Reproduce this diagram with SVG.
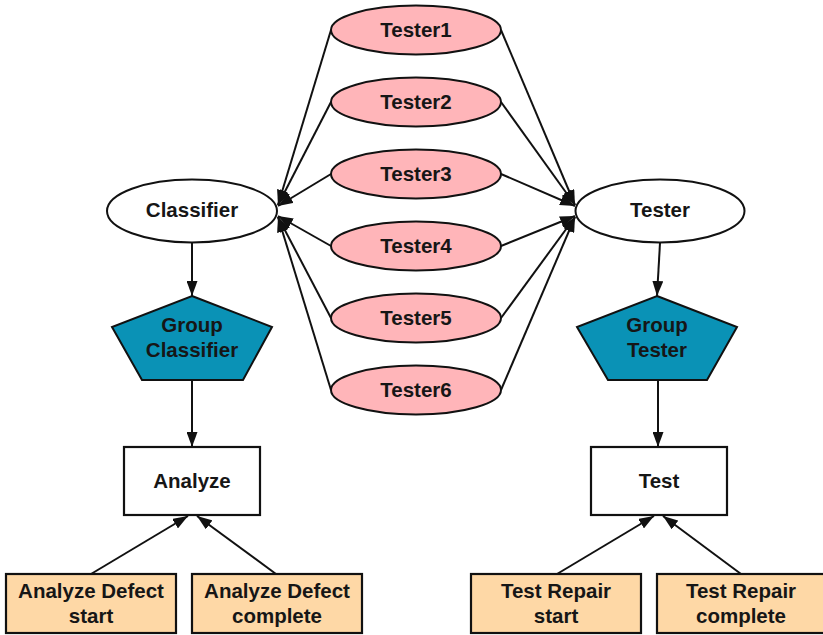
<svg xmlns="http://www.w3.org/2000/svg" width="823" height="635" viewBox="0 0 823 635">
  <defs>
    <marker id="arrow" markerUnits="userSpaceOnUse" markerWidth="15" markerHeight="11" refX="15" refY="5.5" orient="auto">
      <path d="M0,0 L15,5.5 L0,11 z" fill="#111"/>
    </marker>
    <style>
      .edge { stroke: #111; stroke-width: 2; fill: none; marker-end: url(#arrow); }
      .tester { fill: #FFB5B9; stroke: #111; stroke-width: 2; }
      .role { fill: #FFFFFF; stroke: #111; stroke-width: 2; }
      .group { fill: #0A92B6; stroke: #111; stroke-width: 2; }
      .task { fill: #FFFFFF; stroke: #111; stroke-width: 2.2; }
      .event { fill: #FED8A6; stroke: #111; stroke-width: 2.2; }
      text { font-family: "Liberation Sans", Arial, sans-serif; font-weight: bold; font-size: 20.5px; fill: #161616; text-anchor: middle; }
    </style>
  </defs>

  <rect width="823" height="635" fill="#FFFFFF"/>

  <!-- connectors -->
  <g id="edges">
    <!-- testers to Classifier -->
    <line class="edge" x1="331" y1="30" x2="278" y2="205"/>
    <line class="edge" x1="331" y1="102" x2="278" y2="205"/>
    <line class="edge" x1="331" y1="174" x2="278" y2="206"/>
    <line class="edge" x1="331" y1="246" x2="278" y2="216"/>
    <line class="edge" x1="331" y1="318" x2="278" y2="217"/>
    <line class="edge" x1="331" y1="390" x2="278" y2="217"/>
    <!-- testers to Tester -->
    <line class="edge" x1="501" y1="30" x2="575" y2="205"/>
    <line class="edge" x1="501" y1="102" x2="575" y2="205"/>
    <line class="edge" x1="501" y1="174" x2="575" y2="206"/>
    <line class="edge" x1="501" y1="246" x2="575" y2="216"/>
    <line class="edge" x1="501" y1="318" x2="575" y2="217"/>
    <line class="edge" x1="501" y1="390" x2="575" y2="217"/>
    <!-- vertical chains -->
    <line class="edge" x1="192" y1="243" x2="192" y2="296"/>
    <line class="edge" x1="192" y1="380" x2="192" y2="447"/>
    <line class="edge" x1="660" y1="243" x2="657" y2="296"/>
    <line class="edge" x1="658" y1="380" x2="658" y2="447"/>
    <!-- events to tasks -->
    <line class="edge" x1="91" y1="574" x2="188" y2="516"/>
    <line class="edge" x1="276" y1="574" x2="197" y2="516"/>
    <line class="edge" x1="557" y1="574" x2="654" y2="516"/>
    <line class="edge" x1="741" y1="574" x2="663" y2="516"/>
  </g>

  <!-- tester pool -->
  <g id="tester1">
    <ellipse class="tester" cx="416" cy="30" rx="85" ry="24.5"/>
    <text x="416" y="37">Tester1</text>
  </g>
  <g id="tester2">
    <ellipse class="tester" cx="416" cy="102" rx="85" ry="24.5"/>
    <text x="416" y="109">Tester2</text>
  </g>
  <g id="tester3">
    <ellipse class="tester" cx="416" cy="174" rx="85" ry="24.5"/>
    <text x="416" y="181">Tester3</text>
  </g>
  <g id="tester4">
    <ellipse class="tester" cx="416" cy="246" rx="85" ry="24.5"/>
    <text x="416" y="253">Tester4</text>
  </g>
  <g id="tester5">
    <ellipse class="tester" cx="416" cy="318" rx="85" ry="24.5"/>
    <text x="416" y="325">Tester5</text>
  </g>
  <g id="tester6">
    <ellipse class="tester" cx="416" cy="390" rx="85" ry="24.5"/>
    <text x="416" y="397">Tester6</text>
  </g>

  <!-- roles -->
  <g id="classifier">
    <ellipse class="role" cx="192" cy="211" rx="85" ry="31.5"/>
    <text x="192" y="217">Classifier</text>
  </g>
  <g id="tester">
    <ellipse class="role" cx="660" cy="211" rx="84.5" ry="31.5"/>
    <text x="660" y="217">Tester</text>
  </g>

  <!-- groups -->
  <g id="group-classifier">
    <polygon class="group" points="192,296 272,327 243,380 142,380 112,327"/>
    <text x="192" y="332">Group</text>
    <text x="192" y="357">Classifier</text>
  </g>
  <g id="group-tester">
    <polygon class="group" points="657,296 737,327 707,380 608,380 577,327"/>
    <text x="657" y="332">Group</text>
    <text x="657" y="357">Tester</text>
  </g>

  <!-- tasks -->
  <g id="analyze">
    <rect class="task" x="124" y="447" width="136" height="68"/>
    <text x="192" y="488">Analyze</text>
  </g>
  <g id="test">
    <rect class="task" x="591" y="447" width="136" height="68"/>
    <text x="659" y="488">Test</text>
  </g>

  <!-- events -->
  <g id="analyze-defect-start">
    <rect class="event" x="6" y="574" width="170" height="59"/>
    <text x="91" y="598">Analyze Defect</text>
    <text x="91" y="623">start</text>
  </g>
  <g id="analyze-defect-complete">
    <rect class="event" x="192" y="574" width="170" height="59"/>
    <text x="277" y="598">Analyze Defect</text>
    <text x="277" y="623">complete</text>
  </g>
  <g id="test-repair-start">
    <rect class="event" x="471" y="574" width="170" height="59"/>
    <text x="556" y="598">Test Repair</text>
    <text x="556" y="623">start</text>
  </g>
  <g id="test-repair-complete">
    <rect class="event" x="657" y="574" width="170" height="59"/>
    <text x="741" y="598">Test Repair</text>
    <text x="741" y="623">complete</text>
  </g>
</svg>
